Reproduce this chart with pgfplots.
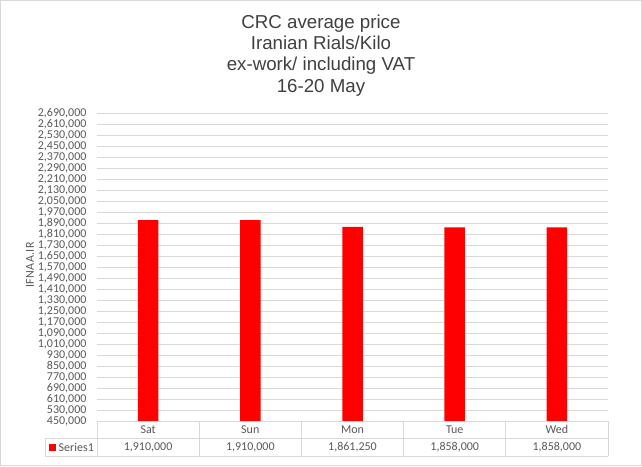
\documentclass[border=0pt]{standalone}
\usepackage{pgfplots}
\pgfplotsset{compat=1.18}
\usepackage{fontspec}
\setmainfont{Carlito}
\newfontfamily\titlefont{Liberation Sans}
\definecolor{txt}{HTML}{595959}
\definecolor{ttl}{HTML}{404040}
\definecolor{grd}{HTML}{D9D9D9}
\definecolor{barred}{HTML}{FF0000}
\begin{document}
\begin{tikzpicture}[x=1pt,y=1pt]
\fill[white] (0,0) rectangle (642,466);
\draw[grd, line width=1pt] (0.5,0.5) rectangle (641.5,465.5);
\begin{axis}[
  at={(97pt,45pt)}, anchor=south west,
  scale only axis, width=511pt, height=308pt,
  xmin=-0.5, xmax=4.5, ymin=450000, ymax=2690000,
  ytick={450000,530000,610000,690000,770000,850000,930000,1010000,1090000,1170000,1250000,1330000,1410000,1490000,1570000,1650000,1730000,1810000,1890000,1970000,2050000,2130000,2210000,2290000,2370000,2450000,2530000,2610000,2690000},
  yticklabel style={/pgf/number format/fixed,/pgf/number format/precision=0,/pgf/number format/1000 sep={,},/pgf/number format/assume math mode=true, font=\fontsize{12}{12}\selectfont, text=txt, xshift=-7pt},
  scaled y ticks=false,
  xtick={0,1,2,3,4}, xticklabels={Sat,Sun,Mon,Tue,Wed},
  xticklabel style={anchor=center, yshift=-8.5pt, font=\fontsize{12}{12}\selectfont, text=txt},
  ymajorgrids, grid style={grd, line width=0.75pt},
  axis line style={draw=none}, major tick length=0pt, tick style={draw=none},
  clip=false,
]
\addplot[ybar, fill=barred, draw=none, bar width=20.5pt] coordinates {(0,1910000) (1,1910000) (2,1861250) (3,1858000) (4,1858000)};
\foreach \i/\v in {0/{1,910,000},1/{1,910,000},2/{1,861,250},3/{1,858,000},4/{1,858,000}} {
  \edef\tmp{\noexpand\node[font=\noexpand\fontsize{12}{12}\noexpand\selectfont, text=txt] at (axis cs:\i,450000) [yshift=-26pt] {\v};}
  \tmp
}
\end{axis}
% data table lines
\draw[grd, line width=0.75pt] (97,45) -- (608,45);
\draw[grd, line width=0.75pt] (45,28) -- (608,28);
\draw[grd, line width=0.75pt] (45,10) -- (608,10);
\draw[grd, line width=0.75pt] (45,28) -- (45,10);
\foreach \x in {97,199.2,301.4,403.6,505.8,608} { \draw[grd, line width=0.75pt] (\x,45) -- (\x,10); }
\fill[barred] (49,15.5) rectangle (56,22.5);
\node[anchor=west, inner sep=0pt, font=\fontsize{12}{12}\selectfont, text=txt] at (58.5,19) {Series1};
% y label
\node[rotate=90, font=\fontsize{12}{12}\selectfont, text=txt] at (30,201) {I\kern0.4pt F\kern0.4pt N\kern0.4pt A\kern0.4pt A\kern0.4pt .\kern0.4pt I\kern0.4pt R};
% title
\foreach \t/\y in {{CRC average price}/437.3,{Iranian Rials/Kilo}/416,{ex-work/ including VAT}/395,{16-20 May}/373.4} {
  \node[anchor=base, inner sep=0pt, font=\titlefont\fontsize{18.7}{18.7}\selectfont, text=ttl] at (321,\y) {\t};
}
\end{tikzpicture}
\end{document}
